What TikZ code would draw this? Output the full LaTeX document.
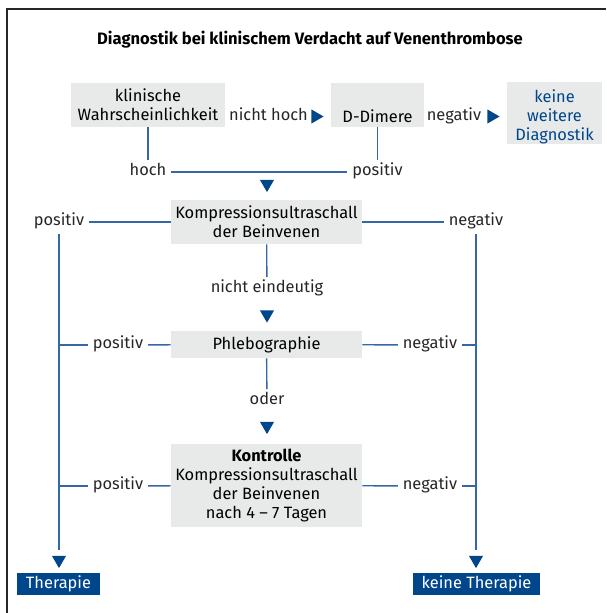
\documentclass[tikz,border=0pt]{standalone}
\usepackage{fontspec}
\setmainfont{Fira Sans}
\usetikzlibrary{shapes.geometric,positioning,calc}

\definecolor{boxgrey}{HTML}{E8E9E9}
\definecolor{darkblue}{HTML}{00468B}
\definecolor{lineblue}{HTML}{3566A6}

\begin{document}
\begin{tikzpicture}[x=0.75pt,y=-0.75pt,
    font=\fontsize{12.3}{14.25}\selectfont,
    conn/.style={draw=lineblue,line width=1pt},
    greybox/.style={fill=boxgrey,inner sep=0pt,align=center,minimum width=#1},
    bluebox/.style={fill=darkblue,text=white,inner sep=0pt,minimum height=16.5pt,minimum width=#1},
    lbl/.style={inner sep=3.5pt,text=black!85,text height=8pt,text depth=2.5pt},
    tri/.style={regular polygon,regular polygon sides=3,fill=darkblue,inner sep=0pt,minimum size=12.15pt},
    tridown/.style={tri,shape border rotate=180},
    triright/.style={tri,shape border rotate=-90}]

    \useasboundingbox (0,0) rectangle (606,613);
    \draw[line width=1.5pt,black!85] (7,613) -- (7,9.5) -- (606,9.5);

    \node[font=\fontsize{12.4}{14.25}\selectfont\bfseries](title) at (310,40) {Diagnostik bei klinischem Verdacht auf Venenthrombose};

    % obere Zeile
    \node[greybox=115.5pt,minimum height=33pt](kw) at (148,105) {klinische\\Wahrscheinlichkeit};
    \node[lbl](nh) at (268.5,116.5) {nicht hoch};
    \node[triright](tr1) at (315.5,116.5) {};
    \node[greybox=69.75pt,text height=29.5pt,text depth=3.5pt](dd) at (377.5,105) {D-Dimere};
    \node[lbl](neg1) at (454,116.5) {negativ};
    \node[triright](tr2) at (491.5,116.5) {};
    \node[greybox=71.25pt,minimum height=45pt,text=darkblue](kwd) at (554.5,113) {\rule{0pt}{15pt}keine\\weitere\\Diagnostik};

    \node[lbl](hoch) at (148,172) {hoch};
    \node[lbl](pos1) at (377.5,172) {positiv};
    \node[tridown](t1) at (267,184) {};

    \draw[conn] (kw) -- (hoch);
    \draw[conn] (dd) -- (pos1);
    \draw[conn] (hoch) -- (pos1);

    % Kompressionsultraschall
    \node[greybox=143.25pt,minimum height=33pt](kus) at (266.5,222) {Kompressionsultraschall\\der Beinvenen};
    \node[lbl](kpos) at (59,222) {positiv};
    \node[lbl](kneg) at (476,222) {negativ};
    \node[tridown](ltri) at (59,560) {};
    \node[tridown](rtri) at (476,560) {};
    \node[bluebox=62.25pt](ther) at (58.5,584) {Therapie};
    \node[bluebox=95.25pt](kther) at (476.5,584) {keine Therapie};

    \draw[conn] (kpos) -- (kus);
    \draw[conn] (kus) -- (kneg);
    \draw[conn,shorten >=4.5pt] (kpos) -- (ltri);
    \draw[conn,shorten >=4.5pt] (kneg) -- (rtri);

    % Phlebographie
    \node[lbl](ne) at (267,289) {nicht eindeutig};
    \node[tridown](t2) at (267,314.5) {};
    \node[greybox=143.25pt,minimum height=20.25pt](phl) at (266.5,344.5) {Phlebographie};
    \node[lbl](ppos) at (118,345) {positiv};
    \node[lbl](pneg) at (430,345) {negativ};

    \draw[conn] (kus) -- (ne);
    \draw[conn] (ppos) -- (phl);
    \draw[conn] (ppos) -- (kpos |- ppos);
    \draw[conn] (phl) -- (pneg);
    \draw[conn] (pneg) -- (kneg |- pneg);

    % Kontrolle
    \node[lbl](oder) at (267,401) {oder};
    \node[tridown](t3) at (267,426) {};
    \node[greybox=143.25pt,minimum height=62.25pt](kon) at (266.5,485.5) {\textbf{Kontrolle}\\Kompressionsultraschall\\der Beinvenen\\nach 4 -- 7 Tagen};
    \node[lbl](cpos) at (118,486) {positiv};
    \node[lbl](cneg) at (430,486) {negativ};

    \draw[conn] (phl) -- (oder);
    \draw[conn] (cpos) -- (kon);
    \draw[conn] (cpos) -- (kpos |- cpos);
    \draw[conn] (kon) -- (cneg);
    \draw[conn] (cneg) -- (kneg |- cneg);

\end{tikzpicture}
\end{document}
